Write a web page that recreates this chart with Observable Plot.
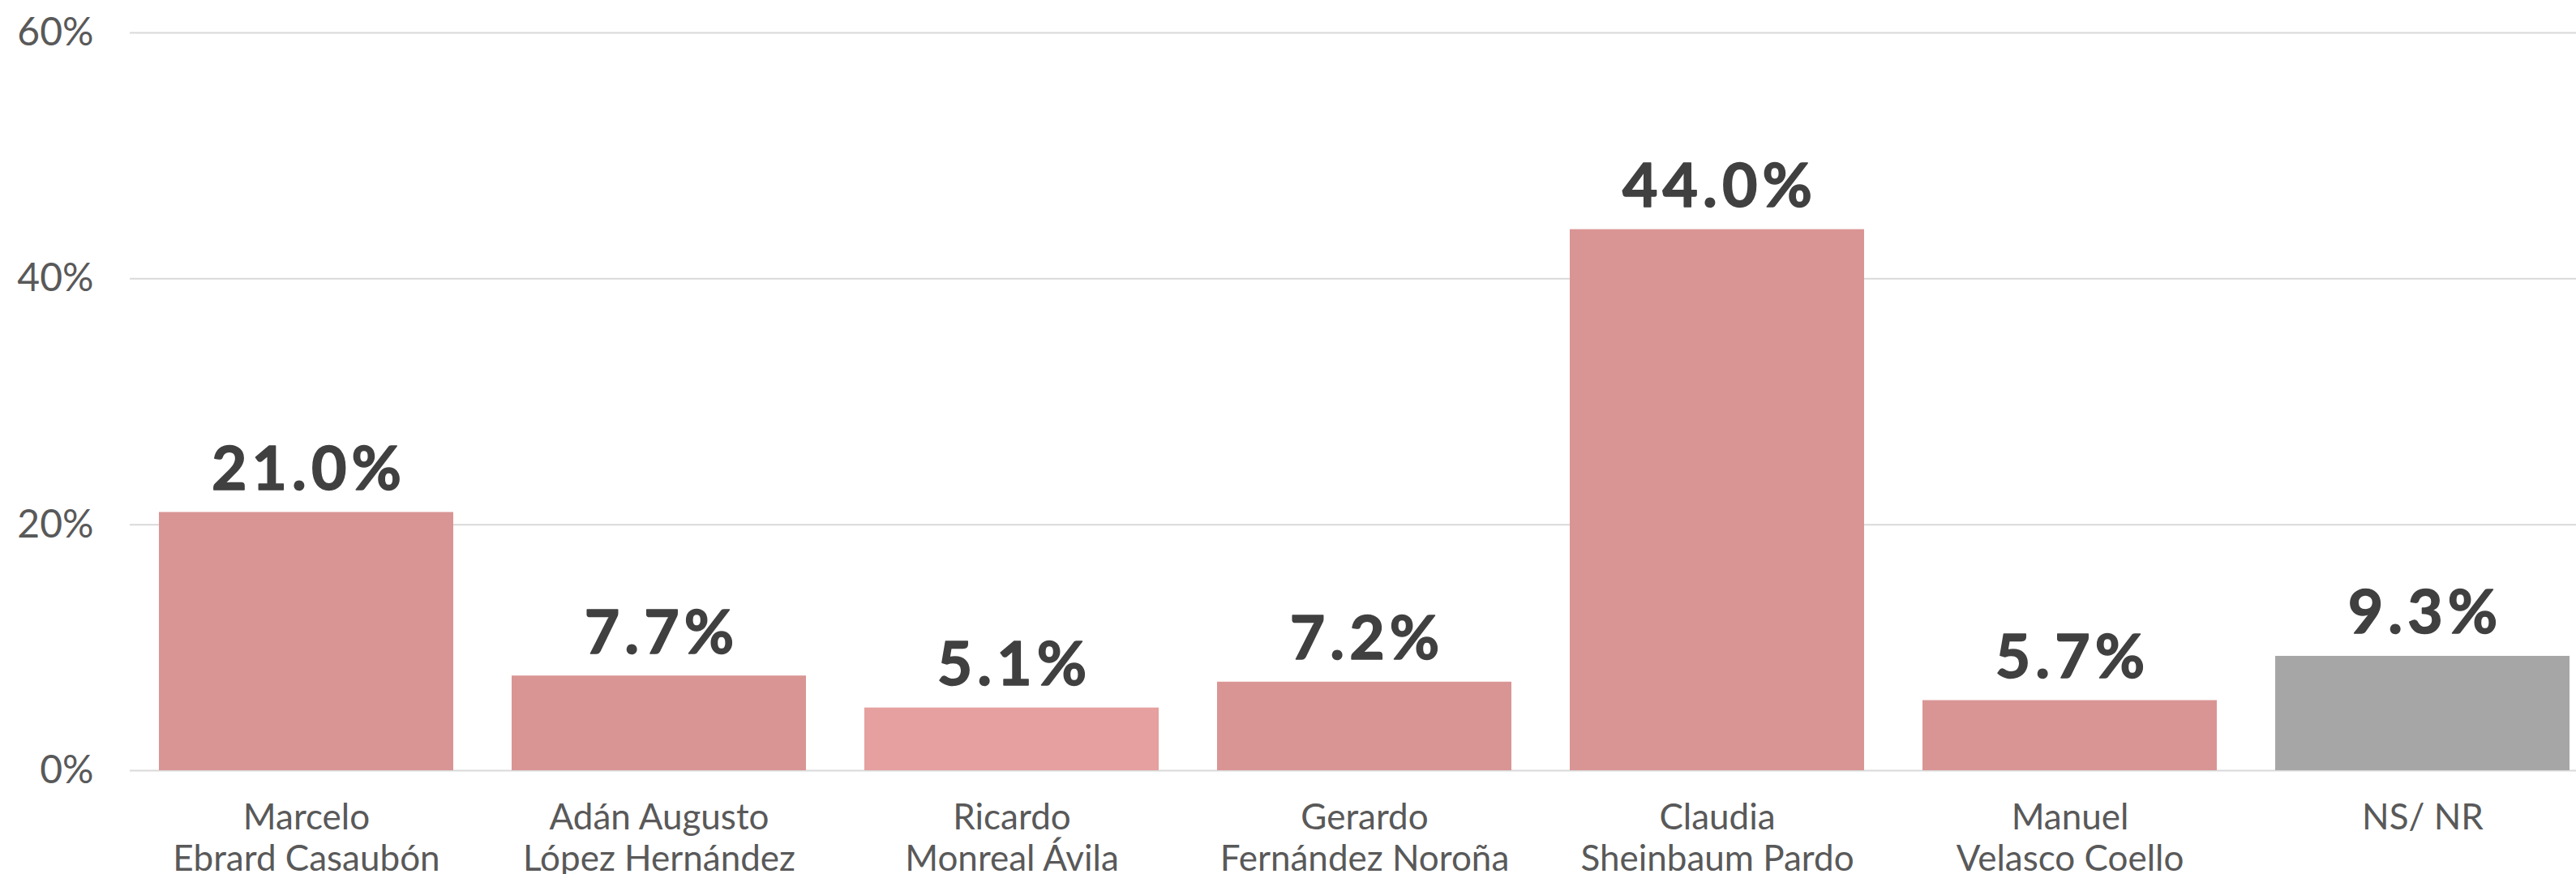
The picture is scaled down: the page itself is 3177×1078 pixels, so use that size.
<!DOCTYPE html>
<html>
<head>
<meta charset="utf-8">
<script src="https://cdn.jsdelivr.net/npm/d3@7"></script>
<script src="https://cdn.jsdelivr.net/npm/@observablehq/plot@0.6"></script>
<style>
  html, body { margin: 0; padding: 0; background: #ffffff; }
  #chart svg { display: block; }
  #chart g[aria-label="text"] text { letter-spacing: 6px; }
</style>
</head>
<body>
<div id="chart"></div>
<script>
// Data
const categories = [
  "Marcelo\nEbrard Casaubón",
  "Adán Augusto\nLópez Hernández",
  "Ricardo\nMonreal Ávila",
  "Gerardo\nFernández Noroña",
  "Claudia\nSheinbaum Pardo",
  "Manuel\nVelasco Coello",
  "NS/ NR"
];
const values = [21.0, 7.7, 5.1, 7.2, 44.0, 5.7, 9.3];
const yTicks = [0, 20, 40, 60];

// Styles
const barColors = ["#D99594", "#D99594", "#E5A09F", "#D99594", "#D99594", "#D99594", "#A6A6A6"];

const data = categories.map((c, i) => ({ name: c, value: values[i] }));

const chart = Plot.plot({
  width: 3177,
  height: 1078,
  marginTop: 40,
  marginBottom: 128,
  marginLeft: 160,
  marginRight: 0,
  style: { fontFamily: "Lato, 'Open Sans', sans-serif", background: "#ffffff", overflow: "visible" },
  x: {
    domain: categories,
    range: [160, 3206],
    paddingInner: 0.1654,
    paddingOuter: 0.0827,
    label: null
  },
  y: { domain: [0, 60], label: null },
  color: { type: "ordinal", domain: categories, range: barColors },
  marks: [
    Plot.ruleY(yTicks, { stroke: "#D9D9D9", strokeWidth: 2 }),
    Plot.barY(data, { x: "name", y: "value", fill: "name" }),
    Plot.text(data, {
      x: "name", y: "value",
      text: d => d.value.toFixed(1) + "%",
      lineAnchor: "bottom",
      dy: -28,
      dx: 3,
      fontSize: 75,
      fontWeight: 700,
      fill: "#404040",
      stroke: "#404040",
      strokeWidth: 1.5
    }),
    Plot.axisY({
      ticks: yTicks,
      tickFormat: d => d + "%",
      tickSize: 0,
      tickPadding: 45,
      fontSize: 48,
      fill: "#595959",
      label: null
    }),
    Plot.axisX({
      tickSize: 0,
      tickPadding: 36,
      fontSize: 44,
      lineHeight: 1.16,
      lineAnchor: "top",
      fill: "#595959",
      label: null
    })
  ]
});
document.getElementById("chart").appendChild(chart);
</script>
</body>
</html>
